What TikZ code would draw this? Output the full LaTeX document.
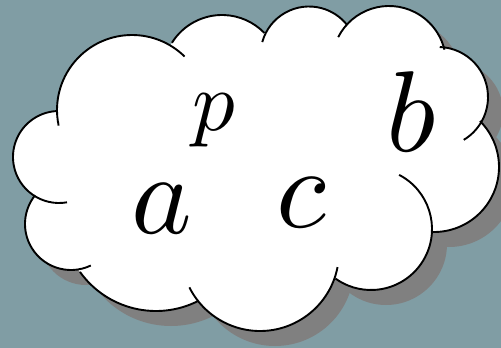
\documentclass[tikz,border=0pt]{standalone}
\begin{document}
\begin{tikzpicture}[x=1pt,y=-1pt,
  outline/.style={line width=1.9pt, black},
  letter/.style={inner sep=0pt, anchor=base, scale=11.5},
  smallletter/.style={inner sep=0pt, anchor=base, scale=8.5}]
\definecolor{bgc}{RGB}{128,157,164}
\definecolor{shadowc}{RGB}{128,128,128}
\fill[bgc] (0,0) rectangle (501,348);
\useasboundingbox (0,0) rectangle (501,348);
\def\cloudlist{132/110/75/-45.5/-192, 222/74/59/-148/-44, 309/55/48.5/-164.5/-38,
  389/63/57/-153/-13.5, 438/97/50/-88/59, 434/167/65/-45/91, 371/229/61/-62.5/125.6,
  260/252/79/11/153.4, 156/217.5/93.5/63/144.4, 71/224/46/64.5/218.5, 59/157/46/80/267.4}
\def\core{(132,110) -- (222,74) -- (309,55) -- (389,63) -- (438,97) -- (434,167)
  -- (371,229) -- (260,252) -- (156,217.5) -- (71,224) -- (59,157) -- cycle}
% shadow
\begin{scope}[shift={(15,15)}]
  \fill[shadowc] \core;
  \foreach \cx/\cy/\r/\sa/\ea in \cloudlist {
    \fill[shadowc] (\cx,\cy) circle[radius=\r];
  }
\end{scope}
% white body
\fill[white] \core;
\foreach \cx/\cy/\r/\sa/\ea in \cloudlist {
  \fill[white] (\cx,\cy) circle[radius=\r];
}
% outline arcs
\foreach \cx/\cy/\r/\sa/\ea in \cloudlist {
  \draw[outline] (\cx,\cy) ++(\sa:\r) arc[start angle=\sa, end angle=\ea, radius=\r];
}
\node[letter] (a) at (161.5,233) {$a$};
\node[smallletter] (p) at (214,130) {$p$};
\node[letter] (c) at (301.5,227) {$c$};
\node[letter] (b) at (411.5,151) {$b$};
\end{tikzpicture}
\end{document}
